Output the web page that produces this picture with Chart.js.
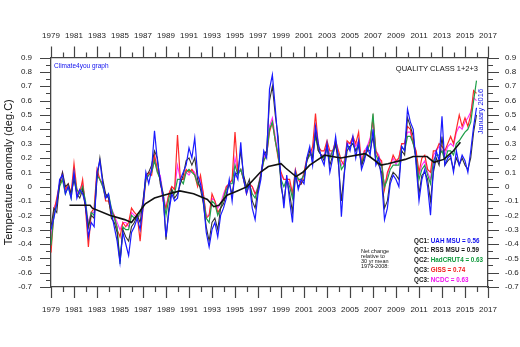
<!DOCTYPE html>
<html>
<head>
<meta charset="utf-8">
<script src="https://cdn.jsdelivr.net/npm/chart.js@4"></script>
<style>
  html, body { margin: 0; padding: 0; background: #fff; }
  canvas { display: block; }
</style>
</head>
<body>
<canvas id="myChart" width="520" height="347"></canvas>
<script>
// categories: one row of 4 quarterly values per year, last year only January
var years = [1979, 1980, 1981, 1982, 1983, 1984, 1985, 1986, 1987, 1988, 1989, 1990, 1991,
             1992, 1993, 1994, 1995, 1996, 1997, 1998, 1999, 2000, 2001, 2002, 2003, 2004,
             2005, 2006, 2007, 2008, 2009, 2010, 2011, 2012, 2013, 2014, 2015, 2016];
var quarterOffsets = [0, 0.25, 0.5, 0.75];

// tick labels
var xLabelYears = [1979, 1981, 1983, 1985, 1987, 1989, 1991, 1993, 1995, 1997, 1999,
                   2001, 2003, 2005, 2007, 2009, 2011, 2013, 2015, 2017];
var yLabelValues = [-0.7, -0.6, -0.5, -0.4, -0.3, -0.2, -0.1, 0, 0.1, 0.2, 0.3, 0.4, 0.5, 0.6, 0.7, 0.8, 0.9];

// anomalies (deg.C)
var uah = [
  -0.30, -0.22, -0.12, 0.05,   0.08, -0.05, 0.00, -0.08,   0.10, -0.08, -0.02, -0.05,
  -0.12, -0.35, -0.25, -0.28,  0.10, 0.18, 0.02, -0.08,    -0.05, -0.18, -0.28, -0.38,
  -0.53, -0.32, -0.40, -0.48,  -0.32, -0.28, -0.22, -0.30, -0.15, 0.10, 0.02, 0.12,
  0.39, 0.18, 0.05, -0.08,     -0.35, -0.18, -0.05, -0.10, -0.08, 0.05, 0.10, 0.15,
  0.27, 0.20, 0.34, 0.08,      0.02, -0.10, -0.32, -0.42,  -0.30, -0.25, -0.35, -0.20,
  -0.15, -0.08, 0.05, -0.10,   0.10, 0.05, 0.31, 0.05,     -0.05, 0.02, -0.15, -0.23,
  -0.05, 0.05, 0.25, 0.20,     0.68, 0.78, 0.55, 0.30,     0.05, -0.15, 0.08, -0.10,
  -0.25, 0.10, -0.02, 0.05,    0.02, 0.20, 0.28, 0.15,     0.42, 0.30, 0.20, 0.15,
  0.30, 0.10, 0.20, 0.35,      0.18, -0.21, 0.08, 0.30,    0.25, 0.35, 0.20, 0.32,
  0.12, 0.18, 0.28, 0.22,      0.40, 0.15, 0.20, 0.05,     -0.23, -0.15, 0.02, 0.08,
  0.05, 0.00, 0.28, 0.25,      0.54, 0.45, 0.40, 0.15,     -0.10, 0.05, 0.12, 0.00,
  -0.20, 0.12, 0.25, 0.18,     0.49, 0.15, 0.20, 0.22,     0.10, 0.25, 0.15, 0.22,
  0.18, 0.10, 0.25, 0.42,      0.55];
var rss = [
  -0.28, -0.15, -0.18, 0.02,   0.10, 0.00, 0.02, -0.05,    0.05, -0.05, -0.08, -0.02,
  -0.15, -0.28, -0.20, -0.22,  0.05, 0.20, 0.05, -0.05,    -0.08, -0.22, -0.25, -0.32,
  -0.52, -0.30, -0.35, -0.38,  -0.28, -0.25, -0.20, -0.25, -0.10, 0.08, 0.10, 0.15,
  0.25, 0.20, 0.02, -0.05,     -0.37, -0.15, -0.02, -0.08, -0.05, 0.02, 0.08, 0.18,
  0.20, 0.15, 0.20, 0.05,      -0.02, -0.12, -0.28, -0.38, -0.25, -0.22, -0.30, -0.15,
  -0.12, -0.05, 0.02, -0.05,   0.08, 0.10, 0.25, 0.08,     0.00, 0.05, -0.10, -0.15,
  -0.02, 0.08, 0.22, 0.25,     0.60, 0.70, 0.50, 0.35,     0.00, -0.10, 0.05, -0.05,
  -0.18, 0.08, 0.00, 0.02,     0.05, 0.18, 0.25, 0.20,     0.38, 0.25, 0.22, 0.18,
  0.28, 0.15, 0.22, 0.30,      0.15, -0.10, 0.10, 0.25,    0.28, 0.30, 0.25, 0.28,
  0.15, 0.20, 0.25, 0.25,      0.35, 0.18, 0.15, 0.10,     -0.15, -0.10, 0.05, 0.10,
  0.08, 0.05, 0.25, 0.22,      0.48, 0.42, 0.35, 0.18,     -0.05, 0.08, 0.10, 0.05,
  -0.10, 0.10, 0.20, 0.15,     0.35, 0.15, 0.18, 0.20,     0.12, 0.20, 0.15, 0.20,
  0.15, 0.12, 0.20, 0.38,      0.50];
var hadcrut4 = [
  -0.41, -0.20, -0.12, 0.00,   0.05, -0.05, 0.00, -0.08,   0.08, -0.02, -0.05, 0.00,
  -0.10, -0.28, -0.18, -0.20,  0.08, 0.05, 0.00, -0.08,    -0.05, -0.15, -0.22, -0.28,
  -0.54, -0.28, -0.30, -0.30,  -0.20, -0.22, -0.22, -0.18, -0.12, 0.05, 0.08, 0.10,
  0.18, 0.10, 0.05, -0.05,     -0.20, -0.08, -0.02, -0.05, 0.05, 0.05, 0.02, 0.10,
  0.12, 0.10, 0.08, 0.02,      0.00, -0.08, -0.22, -0.25,  -0.10, -0.12, -0.20, -0.15,
  -0.08, -0.02, 0.02, 0.02,    0.15, 0.08, 0.12, 0.05,     -0.02, 0.02, -0.05, -0.08,
  0.00, 0.08, 0.18, 0.22,      0.40, 0.45, 0.32, 0.22,     0.05, 0.00, 0.05, 0.00,
  -0.08, 0.10, 0.05, 0.05,     0.08, 0.18, 0.22, 0.22,     0.35, 0.25, 0.22, 0.20,
  0.28, 0.20, 0.25, 0.28,      0.22, 0.12, 0.15, 0.28,     0.28, 0.30, 0.25, 0.30,
  0.15, 0.22, 0.25, 0.30,      0.51, 0.22, 0.18, 0.15,     0.00, 0.05, 0.12, 0.15,
  0.15, 0.15, 0.28, 0.25,      0.35, 0.35, 0.30, 0.20,     0.05, 0.12, 0.15, 0.08,
  0.02, 0.18, 0.22, 0.22,      0.25, 0.18, 0.25, 0.25,     0.22, 0.30, 0.32, 0.35,
  0.38, 0.40, 0.45, 0.60,      0.74];
var giss = [
  -0.46, -0.18, -0.08, 0.02,   0.05, -0.02, 0.02, -0.05,   0.16, -0.02, -0.05, 0.05,
  -0.15, -0.42, -0.18, -0.15,  0.12, 0.05, 0.02, -0.10,    -0.10, -0.18, -0.20, -0.30,
  -0.35, -0.25, -0.28, -0.25,  -0.15, -0.18, -0.20, -0.38, -0.15, 0.05, 0.10, 0.08,
  0.22, 0.12, 0.05, -0.10,     -0.15, -0.05, 0.00, -0.02,  0.36, 0.05, 0.05, 0.12,
  0.10, 0.12, 0.08, 0.00,      0.08, -0.05, -0.22, -0.20,  -0.05, -0.10, -0.18, -0.15,
  -0.08, 0.00, 0.02, 0.05,     0.38, 0.10, 0.12, 0.05,     -0.05, 0.02, 0.00, -0.05,
  -0.02, 0.08, 0.18, 0.22,     0.38, 0.45, 0.32, 0.20,     0.10, 0.05, 0.05, 0.05,
  -0.05, 0.12, 0.05, 0.02,     0.10, 0.20, 0.22, 0.28,     0.51, 0.28, 0.25, 0.25,
  0.32, 0.25, 0.25, 0.32,      0.25, 0.18, 0.15, 0.32,     0.30, 0.35, 0.30, 0.38,
  0.15, 0.25, 0.25, 0.32,      0.48, 0.25, 0.20, 0.18,     -0.02, 0.10, 0.15, 0.22,
  0.18, 0.20, 0.30, 0.30,      0.42, 0.40, 0.30, 0.25,     0.10, 0.20, 0.22, 0.12,
  0.10, 0.25, 0.25, 0.30,      0.28, 0.25, 0.30, 0.35,     0.30, 0.40, 0.50, 0.42,
  0.48, 0.42, 0.50, 0.67,      0.65];
var ncdc = [
  -0.35, -0.15, -0.10, 0.02,   0.10, -0.02, 0.00, -0.05,   0.10, -0.05, -0.02, 0.02,
  -0.12, -0.25, -0.18, -0.18,  0.10, 0.05, 0.00, -0.05,    -0.08, -0.15, -0.20, -0.25,
  -0.30, -0.25, -0.25, -0.28,  -0.18, -0.20, -0.22, -0.20, -0.10, 0.05, 0.08, 0.12,
  0.20, 0.10, 0.08, -0.05,     -0.15, -0.05, 0.00, -0.02,  0.15, 0.05, 0.05, 0.10,
  0.08, 0.12, 0.10, 0.02,      0.05, -0.05, -0.20, -0.20,  -0.08, -0.10, -0.15, -0.12,
  -0.05, 0.00, 0.02, 0.05,     0.20, 0.10, 0.12, 0.05,     -0.02, 0.02, 0.00, -0.05,
  0.00, 0.10, 0.20, 0.25,      0.42, 0.48, 0.35, 0.22,     0.08, 0.05, 0.05, 0.02,
  -0.05, 0.10, 0.05, 0.02,     0.10, 0.18, 0.22, 0.25,     0.40, 0.25, 0.22, 0.22,
  0.30, 0.22, 0.25, 0.30,      0.22, 0.15, 0.18, 0.30,     0.30, 0.32, 0.28, 0.32,
  0.18, 0.25, 0.28, 0.34,      0.45, 0.25, 0.22, 0.15,     0.00, 0.08, 0.15, 0.20,
  0.15, 0.20, 0.30, 0.30,      0.38, 0.38, 0.30, 0.22,     0.08, 0.15, 0.18, 0.10,
  0.05, 0.22, 0.25, 0.28,      0.25, 0.22, 0.28, 0.30,     0.28, 0.38, 0.42, 0.40,
  0.45, 0.48, 0.52, 0.62,      0.60];

// 37-month running mean (black line)
var meanYears = [1980.6, 1982.4, 1982.6, 1984.1, 1985.4, 1986.0, 1987.2, 1988.0, 1988.8, 1990.2,
                 1991.4, 1992.6, 1993.15, 1993.6, 1994.3, 1995.2, 1996.05, 1997.2, 1997.9, 1999.0,
                 1999.4, 2000.3, 2000.9, 2001.5, 2002.8, 2004.2, 2006.3, 2006.7, 2007.7, 2008.3,
                 2009.8, 2010.5, 2011.7, 2012.3, 2013.15, 2014.0, 2014.6];
var meanValues = [-0.13, -0.13, -0.15, -0.20, -0.23, -0.25, -0.12, -0.08, -0.06, -0.03,
                  -0.05, -0.09, -0.14, -0.13, -0.06, -0.03, 0.00, 0.10, 0.14, 0.16,
                  0.13, 0.07, 0.10, 0.15, 0.22, 0.20, 0.23, 0.21, 0.15, 0.16,
                  0.19, 0.21, 0.21, 0.17, 0.19, 0.25, 0.31];

// legend text: net change relative to 30 yr mean 1979-2008
var legendClass = ['QC1:', 'QC1:', 'QC2:', 'QC3:', 'QC3:'];
var legendNames = ['UAH MSU', 'RSS MSU', 'HadCRUT4', 'GISS', 'NCDC'];
var legendValues = ['0.56', '0.59', '0.63', '0.74', '0.63'];
var legendColors = ['#1010ee', '#111111', '#0f9a3c', '#f01818', '#f010f0'];
var noteLines = ['Net change', 'relative to', '30 yr mean', '1979-2008:'];

function toPoints(vals) {
    return vals.map(function (v, i) {
        return { x: years[Math.floor(i / 4)] + quarterOffsets[i % 4], y: v };
    });
}

var FONT = "'Liberation Sans', Arial, sans-serif";
Chart.defaults.font.family = FONT;

var decor = {
    id: 'decor',
    afterDraw: function (chart) {
        var ctx = chart.ctx, a = chart.chartArea, sx = chart.scales.x, sy = chart.scales.y;
        ctx.save();
        // tick marks, long at labelled values, short between them
        ctx.strokeStyle = '#444';
        ctx.lineWidth = 1.2;
        ctx.beginPath();
        for (var yr = 1979; yr <= 2017; yr++) {
            var px = Math.round(sx.getPixelForValue(yr)) + 0.5;
            var len = (yr % 2 === 1) ? 11 : 5;
            ctx.moveTo(px, a.top); ctx.lineTo(px, a.top - len);
            ctx.moveTo(px, a.bottom); ctx.lineTo(px, a.bottom + len);
        }
        for (var k = -14; k <= 18; k++) {
            var py = Math.round(sy.getPixelForValue(k / 20)) + 0.5;
            var l2 = (k % 2 === 0) ? 11 : 5;
            ctx.moveTo(a.left, py); ctx.lineTo(a.left - l2, py);
            ctx.moveTo(a.right, py); ctx.lineTo(a.right + l2, py);
        }
        ctx.stroke();

        ctx.textBaseline = 'middle';
        ctx.fillStyle = '#1010ee';
        ctx.font = '6.5px ' + FONT;
        ctx.textAlign = 'left';
        ctx.fillText('Climate4you graph', a.left + 3, a.top + 9);

        ctx.fillStyle = '#111';
        ctx.font = '7.5px ' + FONT;
        ctx.textAlign = 'right';
        ctx.fillText('QUALITY CLASS 1+2+3', a.right - 10, a.top + 11);

        ctx.save();
        ctx.translate(a.right - 7, a.top + 54);
        ctx.rotate(-Math.PI / 2);
        ctx.textAlign = 'center';
        ctx.fillStyle = '#1010ee';
        ctx.font = '7.5px ' + FONT;
        ctx.fillText('January 2016', 0, 0);
        ctx.restore();

        ctx.textAlign = 'left';
        ctx.fillStyle = '#111';
        ctx.font = '5.5px ' + FONT;
        noteLines.forEach(function (t, i) {
            ctx.fillText(t, 361, 251 + i * 5.3);
        });

        ctx.font = 'bold 6.3px ' + FONT;
        legendClass.forEach(function (qc, i) {
            var y = 241 + i * 9.7;
            ctx.fillStyle = '#111';
            ctx.fillText(qc, 414, y);
            var w = ctx.measureText(qc + ' ').width;
            ctx.fillStyle = legendColors[i];
            ctx.fillText(legendNames[i] + ' = ' + legendValues[i], 414 + w, y);
        });
        ctx.restore();
    }
};

function lineSet(label, vals, color, width) {
    return {
        label: label,
        data: toPoints(vals),
        borderColor: color,
        borderWidth: width,
        pointRadius: 0,
        fill: false,
        tension: 0
    };
}

var tickFont = { size: 8 };
function xAxis(pos, h, pad) {
    var ax = {
        type: 'linear', position: pos, min: 1979, max: 2017,
        afterBuildTicks: function (s) { s.ticks = xLabelYears.map(function (v) { return { value: v }; }); },
        grid: { display: false, drawTicks: false },
        border: { display: true, color: '#444', width: 1.3 },
        ticks: { padding: pad, maxRotation: 0, autoSkip: false, color: '#222', font: tickFont,
                 callback: function (v) { return String(v); } }
    };
    if (h) ax.afterFit = function (s) { s.height = h; };
    return ax;
}
function yAxis(pos, w, pad, title) {
    return {
        type: 'linear', position: pos, min: -0.7, max: 0.9,
        afterBuildTicks: function (s) { s.ticks = yLabelValues.map(function (v) { return { value: v }; }); },
        afterFit: function (s) { s.width = w; },
        grid: { display: false, drawTicks: false },
        border: { display: true, color: '#444', width: 1.3 },
        title: title,
        ticks: { padding: pad, autoSkip: false, color: '#222', font: tickFont,
                 callback: function (v) { return v === 0 ? '0' : v.toFixed(1); } }
    };
}

var ctx = document.getElementById('myChart');
var myChart = new Chart(ctx, {
    type: 'line',
    data: {
        datasets: [
            {
                label: 'Running mean',
                data: meanYears.map(function (yr, i) { return { x: yr, y: meanValues[i] }; }),
                borderColor: '#111',
                borderWidth: 1.6,
                pointRadius: 0,
                fill: false
            },
            lineSet('UAH MSU', uah, '#1a1aff', 1.2),
            lineSet('RSS MSU', rss, '#333333', 1.1),
            lineSet('HadCRUT4', hadcrut4, '#1fa04a', 1.2),
            lineSet('GISS', giss, '#ff2a2a', 1.2),
            lineSet('NCDC', ncdc, '#ff30ff', 1.1)
        ]
    },
    options: {
        responsive: false,
        animation: false,
        layout: { padding: { top: 14 } },
        plugins: { legend: { display: false }, tooltip: { enabled: false } },
        scales: {
            x: xAxis('bottom', 60, 18),
            x2: xAxis('top', 0, 17),
            y: yAxis('left', 51, 19, {
                display: true, text: 'Temperature anomaly (deg.C)', color: '#111',
                font: { size: 11 }, padding: { top: 2, bottom: 0 }
            }),
            y2: yAxis('right', 32, 17, { display: false })
        }
    },
    plugins: [decor]
});
</script>
</body>
</html>
